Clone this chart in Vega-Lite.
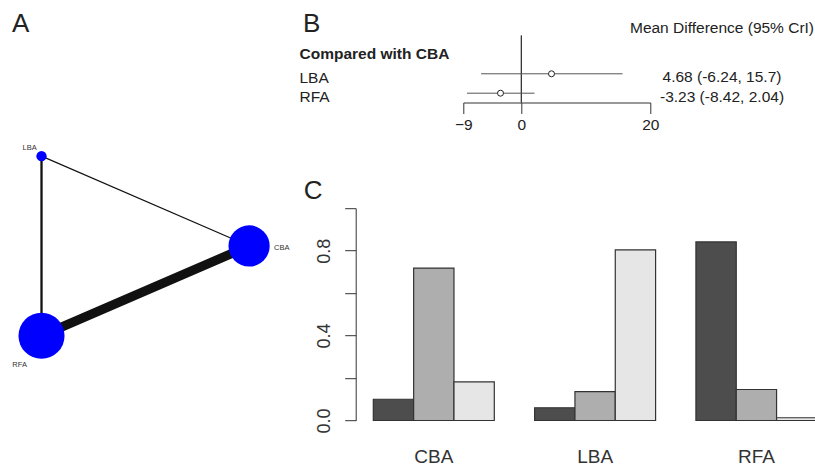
{
  "$schema": "https://vega.github.io/schema/vega-lite/v6.json",
  "padding": {"left": 0, "top": 10.5, "right": 0, "bottom": 0},
  "background": "white",
  "config": {
    "view": {"stroke": null},
    "font": "Liberation Sans",
    "axis": {"grid": false, "labelFont": "Liberation Sans"},
    "title": {"font": "Liberation Sans", "fontWeight": "normal", "fontSize": 26, "color": "#222222", "anchor": "start", "frame": "group"}
  },
  "datasets": {
    "nodes": [
      {"treatment": "CBA", "x": 1, "y": 0, "weight": 0.8},
      {"treatment": "LBA", "x": -0.5, "y": 0.866, "weight": 0.05},
      {"treatment": "RFA", "x": -0.5, "y": -0.866, "weight": 1.0}
    ],
    "edges": [
      {"from": "LBA", "to": "CBA", "studies": 1},
      {"from": "LBA", "to": "RFA", "studies": 2},
      {"from": "RFA", "to": "CBA", "studies": 8}
    ],
    "forest": [
      {"comparison": "LBA", "md": 4.68, "lo": -6.24, "hi": 15.7, "label": "4.68 (-6.24, 15.7)"},
      {"comparison": "RFA", "md": -3.23, "lo": -8.42, "hi": 2.04, "label": "-3.23 (-8.42, 2.04)"}
    ],
    "ranks": [
      {"treatment": "CBA", "rank": 1, "prob": 0.100},
      {"treatment": "CBA", "rank": 2, "prob": 0.718},
      {"treatment": "CBA", "rank": 3, "prob": 0.182},
      {"treatment": "LBA", "rank": 1, "prob": 0.060},
      {"treatment": "LBA", "rank": 2, "prob": 0.136},
      {"treatment": "LBA", "rank": 3, "prob": 0.804},
      {"treatment": "RFA", "rank": 1, "prob": 0.841},
      {"treatment": "RFA", "rank": 2, "prob": 0.146},
      {"treatment": "RFA", "rank": 3, "prob": 0.013}
    ]
  },
  "bounds": "flush",
  "spacing": 55.7,
  "hconcat": [
    {
      "width": 300,
      "height": 400,
      "title": {"text": "A", "dx": 12, "offset": -1.5},
      "layer": [
        {
          "data": {"name": "edges"},
          "transform": [
            {"lookup": "from", "from": {"data": {"name": "nodes"}, "key": "treatment", "fields": ["x", "y"]}, "as": ["x1", "y1"]},
            {"lookup": "to", "from": {"data": {"name": "nodes"}, "key": "treatment", "fields": ["x", "y"]}, "as": ["x2", "y2"]}
          ],
          "mark": {"type": "rule", "color": "#111111", "strokeCap": "butt"},
          "encoding": {
            "x": {"field": "x1", "type": "quantitative", "scale": {"domain": [-0.8, 1.368], "nice": false, "zero": false}, "axis": null},
            "y": {"field": "y1", "type": "quantitative", "scale": {"domain": [-1.827, 2.029], "nice": false, "zero": false}, "axis": null},
            "x2": {"field": "x2"},
            "y2": {"field": "y2"},
            "strokeWidth": {"field": "studies", "type": "quantitative", "scale": {"domain": [0, 8], "range": [0, 9.2]}, "legend": null}
          }
        },
        {
          "data": {"name": "nodes"},
          "mark": {"type": "circle", "color": "#0000FF", "opacity": 1},
          "encoding": {
            "x": {"field": "x", "type": "quantitative"},
            "y": {"field": "y", "type": "quantitative"},
            "size": {"field": "weight", "type": "quantitative", "scale": {"domain": [0, 1], "range": [0, 2124]}, "legend": null}
          }
        },
        {
          "data": {"name": "nodes"},
          "transform": [{"filter": "datum.treatment == 'LBA'"}],
          "mark": {"type": "text", "align": "right", "baseline": "alphabetic", "dx": -4.8, "dy": -5.8, "fontSize": 7.5, "color": "#333333"},
          "encoding": {"x": {"field": "x", "type": "quantitative"}, "y": {"field": "y", "type": "quantitative"}, "text": {"field": "treatment"}}
        },
        {
          "data": {"name": "nodes"},
          "transform": [{"filter": "datum.treatment == 'CBA'"}],
          "mark": {"type": "text", "align": "left", "baseline": "alphabetic", "dx": 24.9, "dy": 4.3, "fontSize": 7.5, "color": "#333333"},
          "encoding": {"x": {"field": "x", "type": "quantitative"}, "y": {"field": "y", "type": "quantitative"}, "text": {"field": "treatment"}}
        },
        {
          "data": {"name": "nodes"},
          "transform": [{"filter": "datum.treatment == 'RFA'"}],
          "mark": {"type": "text", "align": "left", "baseline": "alphabetic", "dx": -29.2, "dy": 31.2, "fontSize": 7.5, "color": "#333333"},
          "encoding": {"x": {"field": "x", "type": "quantitative"}, "y": {"field": "y", "type": "quantitative"}, "text": {"field": "treatment"}}
        }
      ]
    },
    {
      "bounds": "flush",
      "spacing": 172.7,
      "vconcat": [
        {
          "bounds": "flush",
          "spacing": 7.6,
          "hconcat": [
            {
              "width": 100,
              "height": 67,
              "data": {"values": []},
              "mark": "text",
              "encoding": {}
            },
            {
              "width": 187,
              "height": 67,
              "title": {"text": "B", "dx": -160.3, "offset": -1.5},
              "data": {"name": "forest"},
              "layer": [
                {
                  "mark": {"type": "rule", "color": "#333333", "strokeWidth": 1},
                  "encoding": {"x": {"datum": 0, "type": "quantitative"}}
                },
                {
                  "mark": {"type": "rule", "color": "#555555", "strokeWidth": 1},
                  "encoding": {
                    "x": {
                      "field": "lo", "type": "quantitative",
                      "scale": {"domain": [-9, 20], "nice": false, "zero": false},
                      "axis": {"values": [-9, 0, 20], "title": null, "tickSize": 11, "tickColor": "#333333", "domainColor": "#333333", "labelFontSize": 15.5, "labelColor": "#222222", "labelPadding": 16, "labelBaseline": "alphabetic", "labelFlush": false, "labelOverlap": false}
                    },
                    "x2": {"field": "hi"},
                    "y": {
                      "field": "comparison", "type": "nominal",
                      "scale": {"type": "point", "domain": ["Compared with CBA", "LBA", "RFA"], "padding": 0.7268, "align": 0.67},
                      "axis": {
                        "title": null, "ticks": false, "tickSize": 0, "domain": false,
                        "labelAlign": "left", "labelPadding": 164.3, "labelFontSize": 15.5, "labelColor": "#222222",
                        "labelBaseline": "alphabetic", "labelLimit": 300,
                        "labelFontWeight": {"condition": {"test": "datum.value === 'Compared with CBA'", "value": "bold"}, "value": "normal"},
                        "labelOffset": {"condition": {"test": "datum.value === 'Compared with CBA'", "value": 4.1}, "value": 8.6}
                      }
                    }
                  }
                },
                {
                  "mark": {"type": "point", "shape": "circle", "filled": true, "fill": "white", "stroke": "#222222", "strokeWidth": 1, "size": 36, "opacity": 1},
                  "encoding": {
                    "x": {"field": "md", "type": "quantitative"},
                    "y": {"field": "comparison", "type": "nominal"}
                  }
                }
              ]
            },
            {
              "width": 128.2,
              "height": 67,
              "title": {"text": "Mean Difference (95% CrI)", "anchor": "middle", "fontSize": 15.5, "color": "#222222", "offset": -1.3},
              "data": {"name": "forest"},
              "mark": {"type": "text", "align": "center", "baseline": "alphabetic", "dy": 8.5, "fontSize": 15.5, "color": "#222222"},
              "encoding": {
                "y": {"field": "comparison", "type": "nominal", "scale": {"type": "point", "domain": ["Compared with CBA", "LBA", "RFA"], "padding": 0.7268, "align": 0.67}, "axis": null},
                "text": {"field": "label"}
              }
            }
          ]
        },
        {
          "width": 461.2,
          "height": 212.3,
          "title": {"text": "C", "dx": -52, "offset": 3.7},
          "data": {"name": "ranks"},
          "mark": {"type": "bar", "stroke": "#333333", "strokeWidth": 1.2},
          "encoding": {
            "x": {
              "field": "treatment", "type": "nominal",
              "scale": {"paddingInner": 0.25, "paddingOuter": 0.0546, "align": 1},
              "axis": {"title": null, "labelAngle": 0, "domain": false, "ticks": false, "tickSize": 0, "labelFontSize": 19, "labelColor": "#333333", "labelPadding": 42.2, "labelBaseline": "alphabetic"}
            },
            "xOffset": {"field": "rank", "type": "nominal", "scale": {"paddingInner": 0, "paddingOuter": 0}},
            "y": {
              "field": "prob", "type": "quantitative",
              "scale": {"domain": [0, 1], "nice": false, "zero": true},
              "axis": {
                "title": null, "values": [0, 0.2, 0.4, 0.6, 0.8, 1.0], "format": ".1f",
                "labelExpr": "indexof(['0.0', '0.4', '0.8'], datum.label) >= 0 ? datum.label : ''",
                "tickSize": 11, "tickColor": "#333333", "domainColor": "#333333",
                "labelAngle": -90, "labelAlign": "center", "labelBaseline": "alphabetic", "labelPadding": 15,
                "labelFontSize": 18, "labelColor": "#333333", "labelOverlap": false
              }
            },
            "fill": {"field": "rank", "type": "nominal", "scale": {"domain": [1, 2, 3], "range": ["#4D4D4D", "#AEAEAE", "#E6E6E6"]}, "legend": null}
          }
        }
      ]
    }
  ]
}
